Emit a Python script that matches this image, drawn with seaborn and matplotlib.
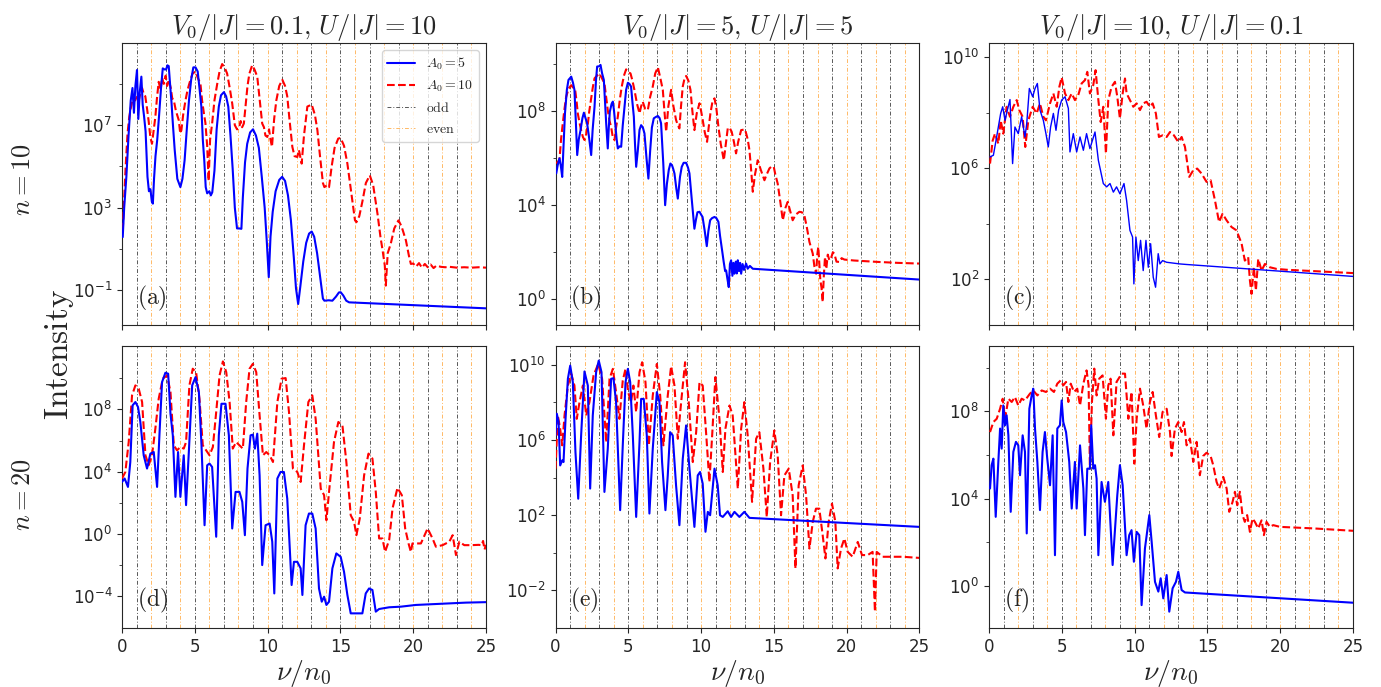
import numpy as np
import matplotlib
matplotlib.use("Agg")
import matplotlib.pyplot as plt
import seaborn as sns
from matplotlib.ticker import FixedLocator, LogFormatterSciNotation, NullFormatter
from matplotlib.font_manager import FontProperties

# ---------------- data: (nu/n0, log10 Intensity) ----------------
a_A5 = [(0.05,1.58),(0.15,3.0),(0.3,4.5),(0.45,6.5),(0.6,8.2),(0.72,8.8),(0.82,7.6),(0.92,8.9),(1.03,9.67),
        (1.12,7.3),(1.22,8.6),(1.33,9.35),(1.42,8.0),(1.52,7.4),(1.62,6.7),(1.75,4.5),(1.85,3.8),(1.95,3.9),
        (2.05,3.3),(2.12,3.2),(2.2,4.4),(2.3,5.5),(2.42,6.3),(2.55,7.5),(2.68,8.8),(2.8,9.75),(2.92,9.7),
        (3.03,9.7),(3.12,9.9),(3.21,9.86),(3.3,9.0),(3.4,8.1),(3.5,7.0),(3.62,5.8),(3.8,4.4),(4.01,4.0),
        (4.15,4.4),(4.3,5.3),(4.45,6.8),(4.6,8.2),(4.75,9.2),(4.9,9.8),(5.05,9.8),(5.2,9.6),(5.32,8.8),
        (5.45,7.9),(5.55,6.3),(5.65,5.3),(5.75,4.0),(5.85,3.7),(6.0,3.8),(6.1,3.6),(6.2,3.75),(6.35,4.8),
        (6.5,6.8),(6.65,7.9),(6.8,8.45),(7.0,8.6),(7.15,8.4),(7.3,7.9),(7.45,6.5),(7.6,4.9),(7.75,3.0),
        (7.9,2.0),(8.05,2.0),(8.2,1.98),(8.3,3.5),(8.45,5.2),(8.6,6.1),(8.8,6.65),(9.0,6.8),(9.2,6.5),
        (9.4,5.9),(9.6,4.5),(9.8,3.0),(9.95,1.3),(10.08,-0.36),(10.2,1.6),(10.35,2.8),(10.55,3.8),(10.8,4.35),
        (11.0,4.5),(11.2,4.3),(11.4,3.6),(11.6,2.4),(11.8,0.6),(11.95,-0.9),(12.1,-1.66),(12.25,-0.8),
        (12.45,0.4),(12.65,1.3),(12.85,1.75),(13.03,1.85),(13.2,1.6),(13.4,0.8),(13.6,-0.3),(13.8,-1.4),
        (13.9,-1.5),(14.2,-1.48),(14.45,-1.5),(14.7,-1.3),(14.9,-1.1),(15.02,-1.09),(15.2,-1.25),(15.4,-1.5),
        (15.6,-1.58),(25.0,-1.87)]
a_A10 = [(0.05,1.9),(0.15,3.5),(0.25,5.0),(0.38,6.6),(0.5,7.4),(0.62,7.9),(0.75,8.3),(0.9,8.2),(1.03,8.4),
         (1.15,8.2),(1.28,8.6),(1.38,8.8),(1.5,8.5),(1.6,8.4),(1.72,7.8),(1.83,7.2),(1.95,6.4),(2.06,6.1),
         (2.18,6.8),(2.29,7.4),(2.4,8.3),(2.52,9.1),(2.65,8.7),(2.75,9.3),(2.87,9.0),(3.0,9.4),(3.1,8.9),
         (3.21,9.2),(3.35,8.8),(3.45,8.3),(3.56,8.2),(3.7,7.7),(3.9,7.24),(4.0,6.6),(4.08,6.76),(4.2,7.5),
         (4.36,8.2),(4.5,8.7),(4.7,9.2),(4.85,9.5),(5.05,9.6),(5.2,9.3),(5.39,9.0),(5.5,8.2),(5.62,7.6),
         (5.73,7.1),(5.85,6.0),(5.95,4.3),(6.05,6.3),(6.19,7.08),(6.35,8.2),(6.54,9.0),(6.7,9.6),(6.88,9.96),
         (7.05,9.8),(7.22,9.5),(7.4,8.8),(7.57,8.05),(7.75,7.0),(7.9,6.8),(8.03,6.84),(8.15,7.2),(8.25,6.9),
         (8.37,7.08),(8.5,8.0),(8.62,8.9),(8.75,9.5),(8.94,9.9),(9.1,9.7),(9.29,9.35),(9.45,8.3),(9.63,7.08),
         (9.75,6.9),(9.85,6.5),(9.98,6.43),(10.1,6.8),(10.2,6.3),(10.3,5.95),(10.45,7.3),(10.6,8.2),(10.8,8.9),
         (11.01,9.2),(11.2,8.9),(11.35,8.4),(11.5,7.3),(11.7,5.95),(11.85,5.5),(12.04,5.46),(12.15,5.8),
         (12.34,5.14),(12.5,6.5),(12.73,7.9),(13.03,8.0),(13.25,7.5),(13.42,6.76),(13.6,5.5),(13.8,4.2),
         (13.9,4.0),(14.1,4.1),(14.22,4.0),(14.4,5.0),(14.6,5.9),(14.85,6.35),(15.02,6.38),(15.25,6.0),
         (15.48,5.14),(15.75,3.7),(16.0,2.4),(16.1,2.3),(16.3,2.6),(16.51,3.3),(16.75,4.2),(17.02,4.57),
         (17.25,4.1),(17.55,2.7),(17.75,1.6),(17.9,0.93),(18.05,0.2),(18.12,-0.77),(18.25,0.8),(18.46,1.26),
         (18.7,2.0),(18.99,2.39),(19.2,2.1),(19.5,1.42),(19.7,0.7),(19.84,0.28),(20.0,0.3),(20.2,0.15),
         (20.4,0.32),(20.6,0.1),(20.8,0.28),(21.0,0.12),(21.2,0.25),(21.4,0.08),(21.6,0.2),(21.9,0.14),
         (22.2,0.12),(22.5,0.14),(23.0,0.1),(23.5,0.12),(24.0,0.1),(24.5,0.12),(25.0,0.1)]

b_A5 = [(0.05,5.35),(0.15,5.7),(0.27,5.99),(0.36,5.7),(0.46,5.2),(0.55,6.5),(0.65,7.9),(0.78,8.9),(0.89,9.32),
        (1.0,9.4),(1.08,9.46),(1.2,9.2),(1.3,8.9),(1.4,7.5),(1.49,6.13),(1.6,6.8),(1.72,7.19),(1.85,7.7),
        (1.95,7.93),(2.06,7.7),(2.17,7.48),(2.3,6.9),(2.45,6.13),(2.55,7.2),(2.68,8.18),(2.78,9.3),(2.86,9.89),
        (3.0,9.9),(3.09,9.96),(3.2,9.6),(3.32,9.32),(3.4,8.4),(3.48,7.48),(3.59,6.41),(3.66,7.3),(3.73,7.97),
        (3.85,8.3),(3.94,8.4),(4.02,8.0),(4.1,7.48),(4.2,6.8),(4.28,6.41),(4.4,6.5),(4.51,6.48),(4.62,7.4),
        (4.74,8.18),(4.85,8.9),(4.97,9.2),(5.08,9.15),(5.19,9.04),(5.28,8.4),(5.38,7.76),(5.46,6.6),(5.54,5.63),
        (5.65,6.3),(5.77,7.2),(5.88,7.4),(6.0,7.3),(6.11,7.05),(6.25,6.0),(6.38,5.13),(6.5,6.3),(6.62,7.3),
        (6.75,7.69),(6.9,7.75),(7.03,7.79),(7.15,7.7),(7.25,7.48),(7.4,5.8),(7.53,4.0),(7.65,4.9),(7.78,5.5),
        (7.89,5.77),(8.0,5.7),(8.08,5.55),(8.17,5.35),(8.3,4.7),(8.4,4.28),(8.55,5.2),(8.67,5.63),(8.8,5.8),
        (8.97,5.8),(9.1,5.6),(9.2,5.35),(9.35,4.3),(9.54,3.0),(9.65,3.4),(9.75,3.7),(9.89,3.72),(10.0,3.6),
        (10.1,3.5),(10.25,2.9),(10.39,2.26),(10.5,2.9),(10.62,3.36),(10.75,3.45),(10.92,3.5),(11.05,3.45),
        (11.19,3.29),(11.3,2.7),(11.44,2.09),(11.55,1.6),(11.65,1.2),(11.72,1.23),(11.8,0.9),(11.9,0.52),
        (11.98,1.5),(12.06,1.66),(12.15,1.0),(12.22,1.55),(12.29,1.09),(12.38,1.6),(12.45,1.1),(12.52,1.66),
        (12.6,1.2),(12.68,1.55),(12.75,1.09),(12.85,1.5),(12.95,1.25),(13.09,1.52),(13.2,1.3),(13.35,1.42),
        (13.55,1.3),(25.0,0.84)]
b_A10 = [(0.05,5.77),(0.15,5.85),(0.27,5.9),(0.38,6.8),(0.5,7.48),(0.62,8.1),(0.73,8.6),(0.9,8.95),(1.08,9.1),
         (1.2,9.0),(1.35,8.9),(1.45,8.4),(1.53,7.9),(1.65,7.5),(1.76,7.19),(1.88,6.9),(1.99,6.77),(2.1,7.0),
         (2.2,7.33),(2.32,8.0),(2.45,8.54),(2.56,9.0),(2.68,9.39),(2.85,9.5),(3.0,9.6),(3.18,9.4),(3.36,9.18),
         (3.48,8.6),(3.59,8.04),(3.7,7.6),(3.82,7.33),(3.93,6.9),(4.05,6.77),(4.16,7.3),(4.28,7.76),(4.42,8.5),
         (4.55,9.04),(4.7,9.5),(4.85,9.77),(5.0,9.65),(5.15,9.6),(5.28,9.3),(5.42,8.9),(5.6,8.3),(5.77,7.9),
         (5.88,8.2),(5.99,8.4),(6.15,8.1),(6.34,8.04),(6.5,8.6),(6.68,9.04),(6.85,9.6),(7.03,9.86),(7.2,9.4),
         (7.37,8.9),(7.48,8.0),(7.6,7.12),(7.75,8.2),(7.94,8.9),(8.1,8.2),(8.28,7.62),(8.4,7.4),(8.51,7.26),
         (8.62,8.2),(8.74,9.04),(8.85,9.35),(8.97,9.49),(9.12,9.3),(9.27,8.9),(9.4,8.0),(9.54,7.19),(9.7,7.9),
         (9.89,8.33),(10.0,8.0),(10.11,7.62),(10.25,7.1),(10.41,6.69),(10.52,7.3),(10.64,7.9),(10.78,8.4),
         (10.92,8.54),(11.05,8.1),(11.19,7.33),(11.35,6.6),(11.56,5.91),(11.7,6.6),(11.83,7.26),(11.95,7.3),
         (12.1,7.12),(12.25,6.7),(12.4,6.2),(12.55,6.7),(12.75,7.19),(13.02,7.22),(13.2,6.8),(13.32,6.34),
         (13.45,5.4),(13.55,4.57),(13.7,5.3),(13.89,5.91),(14.1,5.5),(14.35,5.06),(14.5,5.3),(14.69,5.56),
         (14.85,5.65),(14.99,5.63),(15.1,5.3),(15.26,4.92),(15.45,4.1),(15.61,3.36),(15.8,3.9),(15.95,4.14),
         (16.1,3.8),(16.29,3.36),(16.5,3.6),(16.75,3.72),(16.92,3.7),(17.09,3.57),(17.25,3.1),(17.44,2.44),
         (17.55,2.2),(17.67,1.94),(17.78,1.4),(17.9,1.09),(17.98,1.9),(18.05,2.23),(18.12,1.5),(18.19,0.81),
         (18.27,0.5),(18.35,-0.11),(18.43,1.0),(18.51,1.8),(18.6,1.3),(18.7,1.9),(18.81,1.66),(18.95,1.8),
         (19.05,2.0),(19.15,1.94),(19.3,1.6),(19.5,1.59),(19.65,1.75),(19.84,1.69),(20.5,1.65),(21.3,1.62),
         (22.13,1.59),(23.5,1.55),(25.0,1.52)]

c_A5 = [(0.07,6.41),(0.3,6.47),(0.48,7.0),(0.64,7.49),(0.8,7.98),(0.94,8.22),(1.1,7.73),(1.26,8.1),(1.44,8.48),
        (1.62,6.17),(1.78,7.49),(2.01,7.25),(2.24,7.86),(2.47,7.13),(2.59,7.61),(2.77,8.88),(3.0,8.58),
        (3.16,8.88),(3.32,9.06),(3.5,8.1),(3.73,7.73),(3.91,7.25),(4.07,6.77),(4.23,7.49),(4.42,7.98),
        (4.6,7.37),(4.78,8.1),(4.99,8.46),(5.22,8.58),(5.45,8.16),(5.56,6.59),(5.79,7.25),(6.02,6.59),
        (6.25,7.13),(6.48,6.65),(6.7,7.25),(6.93,6.71),(7.28,7.31),(7.51,6.29),(7.85,5.45),(8.08,5.33),
        (8.31,5.45),(8.54,5.14),(8.76,5.33),(8.99,5.08),(9.27,5.45),(9.45,4.84),(9.68,3.76),(9.86,3.52),
        (9.95,1.83),(10.09,3.52),(10.25,2.67),(10.41,3.4),(10.59,2.31),(10.78,3.4),(10.94,2.43),(11.1,3.28),
        (11.28,2.07),(11.44,1.71),(11.62,2.92),(11.74,2.55),(11.92,2.67),(12.2,2.61),(12.65,2.58),
        (13.11,2.55),(13.57,2.53),(25.0,2.1)]
c_A10 = [(0.07,6.17),(0.25,7.0),(0.41,7.25),(0.64,6.89),(0.8,7.73),(0.98,7.25),(1.21,8.22),(1.44,7.86),
         (1.67,8.22),(1.9,8.46),(2.08,8.1),(2.31,7.86),(2.49,6.77),(2.7,7.73),(3.0,8.22),(3.27,7.98),(3.5,8.34),
         (3.73,7.86),(3.91,7.73),(4.19,8.34),(4.42,8.7),(4.65,8.22),(4.83,8.94),(4.99,9.28),(5.22,8.7),
         (5.45,8.46),(5.68,8.7),(5.9,8.46),(6.13,8.64),(6.36,9.06),(6.59,9.18),(6.75,9.48),(6.93,8.7),(7.16,9.0),
         (7.32,9.54),(7.51,8.46),(7.67,7.67),(7.85,8.22),(8.03,6.53),(8.19,8.46),(8.42,8.94),(8.65,9.12),
         (8.81,8.58),(8.99,7.8),(9.18,8.7),(9.34,9.24),(9.45,8.7),(9.68,8.46),(9.91,8.22),(10.14,8.34),
         (10.37,8.1),(10.59,8.34),(10.82,8.4),(11.05,8.22),(11.24,8.34),(11.46,7.98),(11.67,7.13),(11.92,7.19),
         (12.2,7.13),(12.43,7.31),(12.7,7.19),(13.0,6.95),(13.23,7.13),(13.46,6.77),(13.75,5.69),(14.03,5.93),
         (14.3,5.99),(14.6,5.81),(14.94,5.51),(15.22,5.57),(15.52,4.84),(15.8,4.06),(16.04,4.36),(16.32,4.12),
         (16.66,3.88),(17.0,3.76),(17.35,3.28),(17.57,2.67),(17.8,2.8),(17.92,1.95),(18.03,1.47),(18.19,2.43),
         (18.33,1.59),(18.49,2.73),(18.72,2.31),(18.95,2.55),(19.29,2.43),(19.75,2.37),(20.43,2.34),(25.0,2.22)]

d_A5 = [(0.0,3.34),(0.18,3.56),(0.41,3.02),(0.57,4.62),(0.73,8.26),(0.92,8.47),(1.1,8.15),(1.26,7.19),(1.49,5.05),
        (1.72,4.2),(1.95,5.16),(2.18,5.26),(2.41,3.02),(2.57,6.33),(2.75,9.75),(2.98,10.35),(3.17,10.29),
        (3.33,7.72),(3.49,6.33),(3.67,2.38),(3.85,5.26),(4.01,2.38),(4.24,5.05),(4.4,1.85),(4.59,5.26),
        (4.82,9.54),(5.05,10.07),(5.28,9.11),(5.46,5.69),(5.67,0.56),(5.85,4.41),(6.01,4.52),(6.19,4.3),
        (6.47,-0.18),(6.65,6.33),(6.83,8.36),(7.11,8.36),(7.34,6.33),(7.57,0.35),(7.8,2.7),(8.07,2.7),
        (8.26,2.06),(8.44,-0.08),(8.62,4.2),(8.83,6.33),(8.99,6.38),(9.13,5.48),(9.29,6.44),(9.45,3.77),
        (9.63,-2.0),(9.86,0.56),(10.14,0.67),(10.32,-0.5),(10.46,-3.82),(10.67,3.56),(10.89,3.98),(11.12,3.98),
        (11.35,2.27),(11.65,-3.28),(11.81,-1.79),(12.04,-1.79),(12.27,-2.21),(12.39,-3.92),(12.61,0.56),
        (12.84,1.31),(13.07,1.31),(13.3,0.35),(13.53,-3.5),(13.72,-4.35),(13.88,-4.03),(14.04,-4.56),
        (14.22,-4.35),(14.45,-2.21),(14.72,-1.25),(15.02,-1.47),(15.25,-2.43),(15.48,-3.92),(15.71,-5.1),
        (16.51,-5.1),(16.74,-3.82),(16.97,-3.5),(17.2,-3.6),(17.43,-4.99),(17.66,-4.82),(18.35,-4.71),
        (19.15,-4.67),(20.18,-4.56),(23.62,-4.41),(25.0,-4.38)]
d_A10 = [(0.0,3.56),(0.23,3.98),(0.46,5.9),(0.69,8.9),(0.92,9.54),(1.15,9.32),(1.38,8.47),(1.61,5.05),(1.83,4.41),
         (2.06,5.05),(2.29,6.76),(2.52,8.68),(2.8,9.97),(3.1,10.18),(3.33,9.11),(3.56,5.69),(3.78,5.37),
         (4.01,5.58),(4.24,5.48),(4.4,5.9),(4.63,9.54),(4.86,10.61),(5.09,10.39),(5.32,8.68),(5.55,5.69),
         (5.78,5.37),(6.01,5.05),(6.24,5.58),(6.47,7.83),(6.7,10.18),(6.93,11.08),(7.16,10.39),(7.39,8.47),
         (7.61,5.48),(7.84,5.9),(8.07,5.69),(8.3,5.48),(8.53,8.47),(8.76,10.61),(8.99,10.93),(9.22,10.39),
         (9.45,7.62),(9.68,5.05),(9.91,5.26),(10.14,5.05),(10.37,4.62),(10.67,8.47),(10.96,9.97),(11.24,10.01),
         (11.47,7.83),(11.74,4.2),(12.04,3.98),(12.27,3.34),(12.5,5.69),(12.8,8.47),(13.07,8.9),(13.3,7.4),
         (13.65,2.91),(13.88,2.49),(14.04,0.88),(14.22,2.7),(14.56,5.9),(14.86,7.19),(15.14,6.97),(15.41,4.62),
         (15.71,1.2),(15.94,0.78),(16.1,-0.08),(16.33,0.99),(16.63,3.77),(16.93,5.16),(17.2,4.84),(17.43,2.7),
         (17.66,-0.29),(17.89,-0.29),(18.07,-1.15),(18.35,-0.39),(18.58,1.63),(18.92,2.96),(19.22,2.49),
         (19.45,0.35),(19.68,-0.61),(19.84,-1.15),(19.95,-0.61),(20.53,-0.61),(20.99,0.35),(21.33,-0.29),
         (21.56,-0.82),(22.02,-0.72),(22.48,-0.5),(22.71,-0.08),(22.94,-1.36),(23.17,-0.5),(23.51,-0.72),
         (24.0,-0.72),(24.5,-0.7),(24.7,-0.72),(24.8,-0.45),(24.9,-1.0),(25.0,-0.7)]

e_A5 = [(0.0,6.25),(0.09,7.4),(0.21,6.96),(0.32,4.65),(0.46,4.92),(0.55,4.83),(0.69,7.13),(0.85,9.26),(1.01,9.96),
        (1.19,9.08),(1.37,5.36),(1.56,2.88),(1.76,6.25),(1.99,9.65),(2.22,8.9),(2.38,3.42),(2.56,7.31),(2.79,9.61),
        (2.97,10.23),(3.16,9.61),(3.36,3.24),(3.59,5.54),(3.82,9.26),(3.98,9.29),(4.16,8.02),(4.44,2.27),
        (4.62,5.72),(4.81,9.08),(4.97,9.79),(5.13,9.08),(5.31,6.25),(5.54,1.91),(5.77,5.89),(5.88,8.19),
        (6.06,8.19),(6.27,6.25),(6.45,2.09),(6.68,5.54),(6.96,8.55),(7.14,8.02),(7.32,4.83),(7.55,2.27),
        (7.71,4.12),(7.87,6.42),(8.05,6.25),(8.28,3.59),(8.51,1.47),(8.74,5.0),(8.97,6.78),(9.2,4.48),
        (9.54,1.38),(9.77,4.12),(9.93,4.3),(10.11,3.68),(10.3,1.12),(10.46,2.18),(10.62,2.0),(10.92,4.48),
        (11.14,3.59),(11.3,2.0),(11.49,1.91),(11.83,2.21),(12.06,1.91),(12.29,2.18),(12.63,1.91),(12.97,2.18),
        (13.32,1.86),(25.0,1.38)]
e_A10 = [(0.0,4.48),(0.16,7.31),(0.32,6.6),(0.46,5.72),(0.62,7.31),(0.85,8.9),(1.08,9.52),(1.3,8.9),(1.46,7.13),
         (1.65,8.02),(1.88,8.9),(2.11,7.31),(2.33,8.02),(2.61,9.43),(2.93,10.05),(3.2,9.26),(3.48,5.89),(3.71,9.26),
         (3.94,9.79),(4.16,8.55),(4.39,7.13),(4.62,9.17),(4.81,9.79),(4.99,8.55),(5.19,8.02),(5.35,8.9),(5.54,7.49),
         (5.77,9.61),(5.95,10.14),(6.18,9.08),(6.41,5.72),(6.68,8.37),(6.96,10.05),(7.19,8.37),(7.41,5.72),
         (7.71,8.37),(7.94,9.93),(8.17,8.9),(8.4,6.07),(8.63,8.02),(8.9,10.14),(9.15,8.02),(9.43,4.83),(9.66,6.42),
         (9.89,9.08),(10.11,8.9),(10.34,6.42),(10.57,3.77),(10.76,6.25),(10.98,9.35),(11.26,7.13),(11.49,4.3),
         (11.67,6.6),(11.95,7.84),(12.17,7.31),(12.52,3.42),(12.75,6.6),(12.97,8.02),(13.2,6.25),(13.5,2.71),
         (13.78,6.07),(14.0,6.42),(14.28,4.48),(14.51,1.91),(14.74,4.83),(15.03,6.51),(15.26,5.19),(15.49,2.0),
         (15.72,4.12),(16.02,4.48),(16.29,3.06),(16.48,-0.83),(16.7,3.59),(16.98,4.65),(17.21,3.06),(17.44,0.23),
         (17.67,1.65),(17.89,2.35),(18.12,2.35),(18.35,0.94),(18.54,-0.3),(18.76,1.65),(18.99,2.62),(19.22,1.65),
         (19.38,-0.83),(19.61,0.23),(19.84,0.76),(20.07,0.05),(20.41,-0.21),(20.76,0.58),(21.05,-0.12),
         (21.44,-0.12),(21.78,0.05),(21.94,-3.13),(22.06,0.05),(22.47,-0.21),(23.16,-0.21),(23.84,-0.21),
         (24.99,-0.27)]

f_A5 = [(0.07,4.46),(0.18,5.53),(0.3,5.83),(0.46,3.16),(0.64,5.68),(0.76,7.21),(0.87,6.29),(0.98,8.27),(1.1,7.36),
        (1.21,7.82),(1.33,6.9),(1.49,3.39),(1.67,6.14),(1.85,6.6),(2.01,6.44),(2.13,5.07),(2.31,6.9),(2.47,6.14),
        (2.59,2.4),(2.77,8.12),(2.93,8.73),(3.04,9.04),(3.16,7.21),(3.32,5.68),(3.5,3.47),(3.68,6.14),(3.84,7.05),
        (4.0,5.83),(4.19,4.61),(4.37,6.9),(4.53,1.4),(4.69,7.21),(4.87,7.36),(4.99,8.5),(5.1,7.51),(5.29,7.05),
        (5.51,5.68),(5.68,3.54),(5.9,5.68),(6.02,3.54),(6.25,6.44),(6.48,4.46),(6.59,2.32),(6.75,5.37),(6.93,5.37),
        (7.02,7.36),(7.16,5.37),(7.28,5.53),(7.39,4.91),(7.51,1.4),(7.73,4.76),(7.96,3.85),(8.19,4.76),(8.49,0.95),
        (8.81,4.15),(8.99,5.53),(9.18,4.61),(9.27,3.54),(9.45,1.4),(9.63,2.32),(9.79,2.55),(9.95,1.1),(10.14,2.47),
        (10.32,2.32),(10.48,-0.89),(10.71,1.71),(11.01,3.24),(11.17,2.02),(11.4,0.18),(11.63,-0.27),(11.79,0.34),
        (11.97,-0.58),(12.2,0.49),(12.38,-1.19),(12.61,-0.12),(12.84,0.18),(13.0,0.64),(13.23,-0.2),(13.46,-0.31),
        (25.0,-0.78)]
f_A10 = [(0.07,7.05),(0.3,7.51),(0.53,7.66),(0.76,8.12),(0.94,8.58),(1.1,7.66),(1.33,8.58),(1.56,8.43),(1.78,8.66),
         (2.01,8.27),(2.24,8.58),(2.47,8.5),(2.81,8.81),(3.04,8.96),(3.32,8.73),(3.62,8.96),(3.91,8.89),(4.19,9.04),
         (4.46,8.89),(4.69,9.27),(4.92,9.42),(5.1,9.19),(5.29,9.35),(5.45,8.43),(5.61,9.27),(5.84,8.89),(6.06,9.04),
         (6.25,8.27),(6.48,9.27),(6.7,9.88),(6.84,9.19),(6.93,5.37),(7.07,8.43),(7.23,9.96),(7.39,8.73),(7.57,9.5),
         (7.8,9.65),(8.03,7.66),(8.19,9.19),(8.35,9.5),(8.54,6.9),(8.76,9.35),(9.11,9.73),(9.34,9.73),(9.57,7.66),
         (9.79,8.89),(9.98,5.6),(10.14,7.66),(10.37,9.04),(10.59,8.27),(10.82,7.21),(11.05,8.43),(11.24,8.89),
         (11.46,7.82),(11.69,6.82),(11.92,7.97),(12.2,8.12),(12.43,7.05),(12.54,5.95),(12.77,7.21),(13.0,7.51),
         (13.23,7.05),(13.39,7.51),(13.57,6.44),(13.8,6.75),(14.03,5.68),(14.26,6.6),(14.48,5.07),(14.71,5.95),
         (14.94,6.1),(15.22,5.95),(15.4,5.53),(15.63,4.76),(15.81,4.46),(16.09,4.99),(16.32,4.46),(16.5,3.39),
         (16.73,3.85),(16.89,4.31),(17.05,3.69),(17.23,4.31),(17.41,3.24),(17.57,2.93),(17.73,3.24),(17.92,2.47),
         (18.1,3.08),(18.26,2.93),(18.49,2.63),(18.72,3.0),(18.88,2.32),(19.06,2.93),(19.29,2.7),(19.52,2.78),
         (19.98,2.7),(22.27,2.63),(25.0,2.52)]

titles = [r"$V_0/|J|=0.1,\, U/|J|=10$", r"$V_0/|J|=5,\, U/|J|=5$", r"$V_0/|J|=10,\, U/|J|=0.1$"]
row_labels = [r"$n=10$", r"$n=20$"]
panel_tags = ["(a)", "(b)", "(c)", "(d)", "(e)", "(f)"]
series_A5 = [a_A5, b_A5, c_A5, d_A5, e_A5, f_A5]
series_A10 = [a_A10, b_A10, c_A10, d_A10, e_A10, f_A10]
# y-limits (log10) and labelled / unlabelled decade ticks per panel
ylims = [(-2.70, 10.98), (-1.11, 10.89), (0.33, 10.52), (-6.04, 12.1), (-4.0, 11.03), (-1.94, 11.02)]
major_dec = [[-1, 3, 7], [0, 4, 8], [2, 6, 10], [-4, 0, 4, 8], [-2, 2, 6, 10], [0, 4, 8]]
minor_dec = [[1, 5, 9], [2, 6, 10], [4, 8], [-2, 2, 6, 10], [0, 4, 8], [2, 6, 10]]
odd_lines = [1, 3, 5, 7, 9, 11, 13, 15, 17, 19, 21, 23, 25]
even_lines = [0, 2, 4, 6, 8, 10, 12, 14, 16, 18, 20, 22, 24]
x_ticks = [0, 5, 10, 15, 20, 25]

# ---------------- plotting ----------------
sns.set_style("ticks")
plt.rcParams['font.family'] = ['DejaVu Sans']
plt.rcParams['axes.unicode_minus'] = False
plt.rcParams['axes.edgecolor'] = '0.15'

fig, axes = plt.subplots(2, 3, figsize=(13.81, 6.87), dpi=100, sharex=True)
fig.subplots_adjust(left=122/1381, right=1353/1381, bottom=1-628/687, top=1-43/687,
                    wspace=0.191, hspace=0.071)

legend_handles = None
for i, ax in enumerate(axes.flat):
    ax.set_yscale('log')
    h_odd = h_even = None
    for k in odd_lines:
        h_odd = ax.axvline(k, color='black', ls=(0, (4, 2, 1, 2)), lw=0.7, alpha=0.65, zorder=1)
    for k in even_lines:
        h_even = ax.axvline(k, color='darkorange', ls=(0, (4, 2, 1, 2)), lw=0.7, alpha=0.6, zorder=1)

    nu5, L5 = zip(*series_A5[i])
    nu10, L10 = zip(*series_A10[i])
    sns.lineplot(x=list(nu10), y=10.0 ** np.array(L10), ax=ax, color='red', lw=1.5,
                 linestyle='--', estimator=None, errorbar=None, sort=False, zorder=3)
    h10 = ax.lines[-1]
    sns.lineplot(x=list(nu5), y=10.0 ** np.array(L5), ax=ax, color='blue',
                 lw=(1.0 if i == 2 else 1.5), estimator=None, errorbar=None, sort=False, zorder=4)
    h5 = ax.lines[-1]

    lo, hi = ylims[i]
    ax.set_ylim(10.0 ** lo, 10.0 ** hi)
    ax.set_xlim(0, 25)
    ax.set_xticks(x_ticks)
    ax.yaxis.set_major_locator(FixedLocator([10.0 ** d for d in major_dec[i]]))
    ax.yaxis.set_major_formatter(LogFormatterSciNotation())
    ax.yaxis.set_minor_locator(FixedLocator([10.0 ** d for d in minor_dec[i]]))
    ax.yaxis.set_minor_formatter(NullFormatter())
    ax.tick_params(axis='both', which='major', labelsize=12, length=3.5, width=0.8)
    ax.tick_params(axis='y', which='minor', length=2.5, width=0.6)
    ax.set_ylabel('')
    ax.set_xlabel('')
    ax.text(0.04, 0.045, r"$\mathrm{" + panel_tags[i] + "}$", transform=ax.transAxes,
            fontsize=17, math_fontfamily='cm', ha='left', va='bottom', zorder=6)
    if i < 3:
        ax.set_title(titles[i], fontsize=19, math_fontfamily='cm', pad=5)
    else:
        ax.set_xlabel(r"$\nu/n_0$", fontsize=20, math_fontfamily='cm', labelpad=2)
    if ax.get_legend() is not None:
        ax.get_legend().remove()
    if i == 0:
        legend_handles = [h5, h10, h_odd, h_even]

fp = FontProperties(size=10, math_fontfamily='cm')
leg = axes[0, 0].legend(legend_handles,
                        [r"$A_0=5$", r"$A_0=10$", r"$\mathrm{odd}$", r"$\mathrm{even}$"],
                        loc='upper right', prop=fp, framealpha=0.8, edgecolor='0.8',
                        fancybox=True, borderaxespad=0.5)
leg.set_zorder(10)

fig.text(22/1381, 1-180/687, row_labels[0], rotation=90, fontsize=19, math_fontfamily='cm',
         ha='center', va='center')
fig.text(22/1381, 1-495/687, row_labels[1], rotation=90, fontsize=19, math_fontfamily='cm',
         ha='center', va='center')
fig.text(60/1381, 1-355/687, r"$\mathrm{Intensity}$", rotation=90, fontsize=24,
         math_fontfamily='cm', ha='center', va='center')

fig.savefig("out.png", dpi=100)
